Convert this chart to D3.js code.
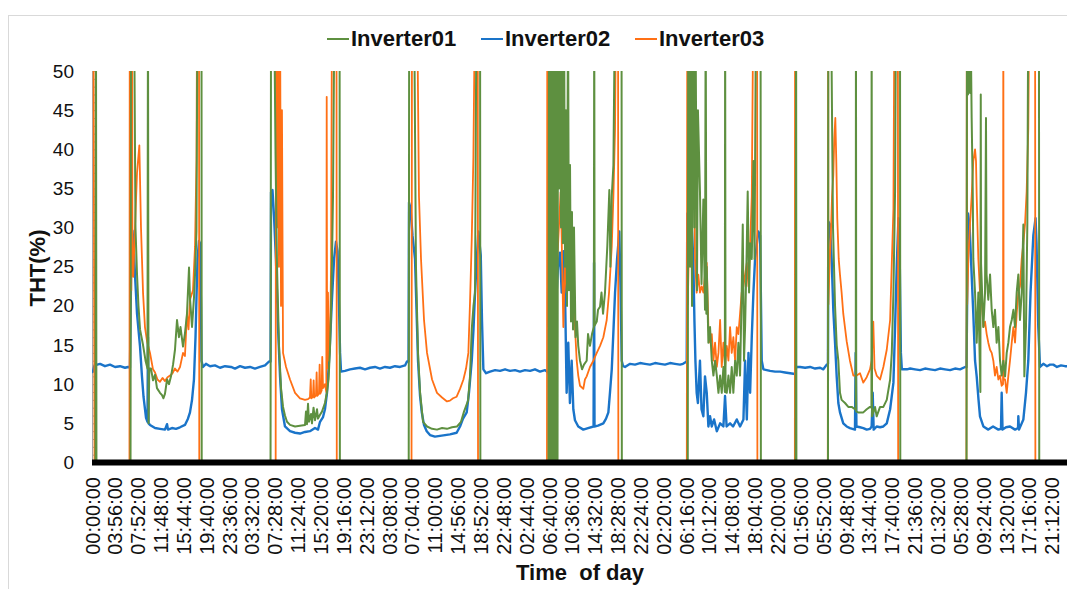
<!DOCTYPE html>
<html>
<head>
<meta charset="utf-8">
<script src="https://cdn.jsdelivr.net/npm/d3@7"></script>
<style>
  body { margin: 0; background: #fff; }
  svg { display: block; font-family: "Liberation Sans", Arial, sans-serif; }
</style>
</head>
<body>
<svg id="chart" width="1067" height="589"></svg>
<script>
// ---- data: elapsed minutes from the first sample, THT in % ----
const seriesNames = ["Inverter01", "Inverter02", "Inverter03"];
const seriesColors = ["#5e9040", "#1a74c9", "#ff7015"];

const tickStepMinutes = 236;
const totalMinutes = 10080;
const tickLabels = [
  "00:00:00","03:56:00","07:52:00","11:48:00","15:44:00","19:40:00","23:36:00",
  "03:32:00","07:28:00","11:24:00","15:20:00","19:16:00","23:12:00",
  "03:08:00","07:04:00","11:00:00","14:56:00","18:52:00","22:48:00",
  "02:44:00","06:40:00","10:36:00","14:32:00","18:28:00","22:24:00",
  "02:20:00","06:16:00","10:12:00","14:08:00","18:04:00","22:00:00",
  "01:56:00","05:52:00","09:48:00","13:44:00","17:40:00","21:36:00",
  "01:32:00","05:28:00","09:24:00","13:20:00","17:16:00","21:12:00"
];
const yTicks = [0, 5, 10, 15, 20, 25, 30, 35, 40, 45, 50];

// Values above 50 run off the top of the axis and are clipped.
const inverter01 = [
  [0,0],[36,0],[41,60],[46,0],[398,0],[403,60],[434,60],[449,30],[465,24],[480,20],[496,17],[527,15],[553,13],[573,12],[578,60],[584,5],[592,12],[609,12],[630,10.5],[651,11.2],[671,9.5],[702,8.9],[723,8.6],[738,8.2],[754,8.8],[775,10.6],[795,10],[816,11],[837,12.5],[857,14.4],[878,18.2],[898,16],[914,17.3],[940,14.8],[960,16.5],[981,19],[1002,24.9],[1012,21],[1033,17.3],[1053,21],[1064,24],[1079,29.5],[1090,60],[1131,60],[1133,0],
  [1844,0],[1849,60],[1880,60],[1895,40],[1911,25],[1931,15],[1952,9.5],[1973,7.1],[1993,6],[2014,5.2],[2045,4.8],[2097,4.6],[2148,4.7],[2200,4.8],[2210,6.5],[2220,4.9],[2231,7.5],[2241,5.2],[2262,6.2],[2272,5],[2288,7],[2303,5.4],[2324,6.8],[2334,5.6],[2355,6.1],[2375,6.5],[2406,7.6],[2427,9],[2443,10.6],[2458,14.5],[2469,19.5],[2479,26],[2489,34],[2505,60],[2557,60],[2560,0],
  [3271,0],[3276,60],[3326,60],[3346,25],[3367,14],[3388,9],[3419,5.2],[3460,4.6],[3512,4.3],[3563,4.2],[3615,4.4],[3666,4.3],[3718,4.5],[3770,4.6],[3811,5.2],[3842,6.5],[3884,7.9],[3904,11],[3922,17],[3940,20],[3956,21.7],[3971,60],[4008,60],[4011,0],
  [4715,0],[4720,60],[4725,0],[4730,60],[4736,0],[4741,60],[4746,0],[4751,60],[4756,5],[4761,60],[4767,0],[4772,60],[4777,10],[4782,60],[4787,0],[4798,60],[4808,0],[4813,60],[4823,35],[4833,60],[4844,30],[4854,60],[4864,28],[4875,60],[4885,25],[4895,45],[4906,20],[4916,60],[4926,22],[4937,38],[4947,18],[4957,32],[4968,17],[4978,30],[4994,16],[5009,18],[5022,14.9],[5040,13],[5061,11.9],[5081,12.5],[5109,13],[5123,16.4],[5143,14.9],[5164,16.4],[5183,17.3],[5187,60],[5191,17.5],[5213,18],[5226,19.5],[5247,19.9],[5262,21.7],[5278,19],[5298,21.7],[5322,27.6],[5343,34.8],[5354,25],[5368,34],[5385,38],[5402,60],[5469,60],[5472,0],
  [6153,0],[6158,60],[6176,25],[6181,60],[6197,20],[6207,60],[6222,30],[6232,60],[6248,22],[6258,45],[6279,34.6],[6295,22.8],[6314,33.6],[6331,19.5],[6338,60],[6345,19],[6349,25],[6366,15.3],[6383,17.3],[6401,13],[6418,11.1],[6435,13],[6453,11.1],[6470,8.9],[6487,11.1],[6504,8.9],[6521,12.2],[6536,9],[6539,60],[6543,9],[6556,8.9],[6573,11.1],[6590,8.9],[6607,12.2],[6624,8.9],[6642,13],[6659,11.1],[6676,15.3],[6693,11.1],[6710,21.7],[6721,30.4],[6734,13],[6745,17.3],[6760,26],[6772,34.6],[6786,21.7],[6797,28],[6814,26],[6831,38.5],[6843,26],[6858,60],[6905,60],[6908,0],
  [7267,0],[7272,60],[7275,0],
  [7601,0],[7605,60],[7632,60],[7653,30],[7674,20],[7691,15],[7708,13],[7725,8.9],[7742,8],[7777,7.6],[7811,7.1],[7846,7.1],[7880,6.8],[7888,6.8],[7890,60],[7893,6.5],[7914,6.4],[7966,6.4],[8001,6.8],[8035,7.1],[8050,7],[8052,60],[8056,5.9],[8087,7.1],[8104,5.9],[8139,7.1],[8173,7.1],[8208,8],[8243,10.6],[8260,14],[8277,21.7],[8294,34.6],[8304,60],[8345,60],[8348,0],
  [9032,0],[9037,60],[9047,47],[9058,55],[9068,47.2],[9078,52],[9085,44],[9096,35],[9102,26],[9120,21.7],[9137,15.3],[9154,21.7],[9175,9],[9179,47],[9182,25.4],[9206,17.3],[9223,21.7],[9233,44],[9239,24],[9257,20.8],[9275,24],[9292,19.5],[9309,17.3],[9326,19.5],[9343,15.3],[9361,17.3],[9378,13],[9395,11.1],[9412,13],[9430,11],[9447,14],[9464,15.3],[9481,17.3],[9499,18.2],[9516,19.5],[9533,17.3],[9550,21.7],[9567,24],[9584,18.2],[9602,21.7],[9619,30.4],[9629,11],[9646,17.3],[9660,30.4],[9670,60],[9780,60],[9783,0],[10080,0]
];

const inverter02 = [
  [0,11.5],[10,11.6],[26,12.4],[83,12.6],[134,12.3],[186,12.5],[238,12.2],[289,12.3],[341,12.1],[372,12.2],[392,12.1],[398,18],[408,29],[418,29.6],[429,28],[444,24],[465,19],[496,14.8],[516,11],[532,8.4],[558,5.7],[573,5.2],[578,16],[584,5],[599,4.8],[651,4.4],[702,4.3],[754,4.2],[775,4.9],[785,4.2],[826,4.4],[867,4.3],[909,4.5],[960,4.8],[991,5.6],[1012,6.4],[1033,8],[1053,10.6],[1069,16],[1079,21],[1090,26],[1105,28.3],[1115,28],[1126,20],[1131,13],[1146,12.2],[1177,12.6],[1219,12.3],[1270,12.4],[1322,12.1],[1374,12.3],[1436,12.2],[1477,12.0],[1529,12.3],[1580,12.1],[1632,12.2],[1683,12.0],[1735,12.2],[1787,12.4],[1828,12.9],[1844,12.9],
  [1849,34.5],[1864,34.8],[1880,31.4],[1900,25.9],[1921,17.3],[1942,11],[1962,6.8],[1993,4.6],[2045,4],[2097,3.8],[2148,3.7],[2200,3.9],[2251,4],[2303,4.4],[2334,4.2],[2355,5.2],[2386,5.8],[2406,6.8],[2427,8.9],[2443,12],[2458,15.3],[2479,21],[2500,26],[2520,28.2],[2536,27],[2551,20],[2562,14],[2572,11.6],[2613,11.7],[2665,11.9],[2716,12.0],[2768,12.1],[2820,11.9],[2871,12.1],[2923,12.2],[2974,12.0],[3026,12.2],[3078,12.1],[3129,12.3],[3181,12.2],[3233,12.4],[3253,12.9],[3269,12.9],
  [3274,33.2],[3290,32.5],[3310,29],[3336,26],[3367,13],[3388,8.5],[3406,6.4],[3429,4.8],[3457,4],[3491,3.5],[3542,3.3],[3594,3.4],[3646,3.5],[3697,3.6],[3766,3.8],[3801,4.6],[3832,5.6],[3870,6.4],[3894,9],[3922,13],[3940,17],[3956,21.7],[3990,29.5],[4015,26.5],[4028,18],[4042,11.9],[4070,11.4],[4111,11.6],[4163,11.8],[4214,11.7],[4266,11.9],[4317,11.7],[4369,11.8],[4420,11.6],[4472,11.8],[4524,11.7],[4575,11.9],[4627,11.6],[4679,11.8],[4710,11.5],[4730,11],
  [4741,14],[4748,25.5],[4761,24.7],[4782,13],[4799,21.7],[4813,25],[4833,26.8],[4851,21.7],[4868,27],[4885,22],[4902,8.9],[4919,15.3],[4936,7.6],[4954,13],[4971,6.8],[4988,5.4],[5022,4.6],[5074,4.2],[5123,4.4],[5180,4.6],[5185,25.5],[5190,4.6],[5226,4.7],[5281,5],[5309,5.6],[5333,6.4],[5350,9],[5368,11.9],[5386,17],[5402,21.7],[5423,26],[5446,29.5],[5459,22],[5471,13],[5485,12.3],[5505,12.2],[5557,12.6],[5608,12.5],[5660,12.7],[5711,12.6],[5763,12.5],[5815,12.7],[5866,12.6],[5918,12.5],[5970,12.7],[6021,12.6],[6073,12.5],[6104,12.6],[6142,12.9],
  [6148,31.8],[6166,31.2],[6193,30.4],[6210,26],[6222,18],[6232,13],[6245,8.9],[6258,7.6],[6279,13],[6295,6.8],[6314,5.9],[6331,11],[6349,8.9],[6366,4.6],[6383,5.9],[6401,4.6],[6425,5.5],[6453,4],[6487,5],[6521,4.6],[6538,8.5],[6554,4.6],[6590,5],[6621,4.6],[6659,5.5],[6693,4.6],[6728,5.5],[6745,13],[6763,5.5],[6780,14],[6797,8.9],[6814,16],[6831,21.7],[6848,26],[6882,29.5],[6900,29],[6917,13],[6934,11.9],[7003,11.7],[7055,11.6],[7107,11.6],[7158,11.5],[7210,11.4],[7262,11.3],[7272,12.2],[7313,12.2],[7365,12.1],[7416,12.2],[7468,12.0],[7520,12.1],[7553,11.9],[7588,12.5],[7601,12.6],
  [7604,30.8],[7622,30.4],[7639,26],[7656,19.5],[7674,15.3],[7691,11],[7708,7.6],[7725,6.4],[7759,5],[7794,4.6],[7828,4.4],[7880,4.2],[7887,14],[7895,4.6],[7932,4.5],[7966,4.4],[8001,4.2],[8035,4.3],[8052,4.6],[8063,8.9],[8073,4.2],[8104,4.6],[8139,4.5],[8173,4.6],[8208,5],[8243,6.8],[8277,10.2],[8294,17.3],[8312,25.4],[8329,31.2],[8339,29],[8354,14],[8364,11.9],[8416,11.9],[8450,12.0],[8500,11.9],[8552,11.8],[8603,12.0],[8655,11.9],[8707,11.8],[8758,12.0],[8810,11.9],[8862,11.8],[8913,12.0],[8965,11.9],[9017,12.2],[9032,12.2],
  [9047,31.8],[9063,30.4],[9078,26],[9102,19],[9120,13],[9137,11],[9156,8],[9171,5.9],[9206,4.6],[9257,4.2],[9306,4.6],[9361,4.2],[9388,4.3],[9395,8.9],[9404,4.2],[9440,4.5],[9481,4.6],[9533,4.2],[9564,4.4],[9567,5.9],[9574,4.2],[9619,5.5],[9646,8.9],[9670,13],[9693,21.7],[9722,29],[9745,31.2],[9755,28],[9773,17.3],[9791,12.2],[9825,12.6],[9863,12.3],[9894,12.5],[9928,12.5],[9966,12.2],[10008,12.4],[10049,12.3],[10080,12.3]
];

const inverter03 = [
  [0,60],[15,60],[26,0],[387,0],[390,60],[395,17.3],[400,60],[406,22],[413,60],[418,25],[426,23.7],[444,30],[465,37],[489,40.5],[506,30],[527,21.7],[547,17.3],[568,15.5],[599,14],[630,11.9],[651,11.5],[676,10.6],[702,10.3],[728,10.8],[754,10.4],[780,10.9],[806,11.1],[831,11.4],[857,12],[883,11.6],[909,12.2],[940,14],[960,13.6],[981,19],[997,17],[1012,20.8],[1043,22],[1064,27.6],[1079,38.6],[1086,60],[1105,60],[1108,0],
  [1897,0],[1900,60],[1911,30],[1921,60],[1931,25],[1942,60],[1952,20],[1962,45],[1973,14],[2004,12.2],[2045,10.6],[2097,8.9],[2148,8.2],[2200,8],[2231,8.1],[2251,8.3],[2259,10.6],[2265,8.2],[2282,8.4],[2289,10.5],[2295,8.3],[2313,8.6],[2320,11.5],[2326,8.5],[2344,8.8],[2351,12.5],[2358,8.8],[2372,9.2],[2378,13.5],[2386,9.5],[2406,10],[2420,9],[2424,46.7],[2428,12],[2437,21.7],[2446,13],[2458,15.3],[2469,25],[2479,60],[2525,60],[2528,0],
  [3300,0],[3305,60],[3357,60],[3377,34],[3398,26],[3429,18.2],[3460,14],[3512,10.6],[3563,8.9],[3615,8.3],[3666,7.8],[3697,7.9],[3729,8.2],[3766,8.4],[3801,9.4],[3836,10.6],[3863,12],[3887,14],[3904,20.4],[3922,28.5],[3939,39],[3956,60],[3984,60],[3987,0],
  [4699,0],[4702,60],[4706,17.5],[4730,17.5],[4748,21.7],[4765,26],[4782,21.7],[4799,24],[4816,28.5],[4840,34.5],[4851,28.5],[4868,17.3],[4885,26],[4902,21.7],[4919,26],[4937,25.4],[4954,21.7],[4971,27.6],[4988,17.3],[5006,13],[5022,11.1],[5040,9.8],[5074,9.4],[5091,10.6],[5109,11],[5143,12.2],[5178,13],[5213,14],[5247,14.9],[5281,16],[5316,18.2],[5340,21.7],[5368,27.6],[5385,34],[5402,42.6],[5412,60],[5433,60],[5436,0],
  [6143,0],[6148,60],[6153,20.2],[6161,25],[6176,26],[6193,30],[6210,38.5],[6221,36],[6228,26],[6245,21.7],[6262,24],[6279,21.7],[6297,22.5],[6314,21.7],[6331,24],[6349,25.5],[6366,17.3],[6383,15.3],[6401,16.4],[6418,13],[6435,15.3],[6453,12.2],[6470,14],[6487,18.2],[6504,12.2],[6521,15.3],[6539,12.2],[6556,14.9],[6573,13],[6590,17.3],[6607,14],[6624,16],[6642,13],[6659,17.3],[6676,16.4],[6693,19],[6710,21.7],[6728,22.5],[6745,24],[6763,25.5],[6780,22.5],[6797,27.6],[6814,34],[6831,60],[6869,60],[6872,0],
  [7259,0],[7261,60],[7265,0],
  [7599,0],[7603,60],[7606,20.2],[7617,25],[7629,28.5],[7643,34],[7656,36.7],[7666,41.3],[7677,44],[7687,38.5],[7697,31.2],[7712,26],[7725,24],[7742,21.7],[7759,19],[7794,15.5],[7828,13],[7863,11.1],[7897,11.1],[7932,11.4],[7966,10.2],[8001,10.9],[8035,11.9],[8052,13],[8069,18],[8082,12],[8104,11.1],[8139,10.6],[8173,12.2],[8208,14.4],[8243,18.2],[8260,25.4],[8277,32.4],[8288,60],[8323,60],[8326,0],
  [9031,0],[9035,60],[9039,20.2],[9051,26],[9068,30.4],[9085,34],[9102,38.5],[9120,40],[9130,38.5],[9137,34],[9154,26],[9171,21.7],[9188,20.8],[9206,17.3],[9223,18],[9240,16.4],[9257,15.3],[9275,14.4],[9292,14],[9309,13],[9326,11.1],[9343,12.2],[9361,10.6],[9378,11.1],[9395,9.8],[9409,10],[9412,60],[9415,10.6],[9430,10.6],[9447,8.9],[9464,11.1],[9481,13],[9499,15.3],[9516,17.3],[9533,15.3],[9550,19],[9567,21.7],[9584,22.5],[9602,26],[9619,28],[9636,30.4],[9653,34.6],[9670,42.7],[9681,60],[9740,60],[9743,0],[10080,0]
];

// ---- layout ----
const svg = d3.select("#chart");
const plot = { left: 92, right: 1068, top: 71, bottom: 462.5 };

const x = d3.scaleLinear().domain([0, totalMinutes]).range([plot.left, plot.right]);
const y = d3.scaleLinear().domain([0, 50]).range([plot.bottom, plot.top]);

// chart-area frame
svg.append("rect")
  .attr("x", 8.5).attr("y", 15.5).attr("width", 1100).attr("height", 600)
  .attr("fill", "none").attr("stroke", "#d9d9d9").attr("stroke-width", 1);

svg.append("clipPath").attr("id", "plot-clip")
  .append("rect")
  .attr("x", plot.left).attr("y", plot.top)
  .attr("width", plot.right - plot.left).attr("height", plot.bottom - plot.top + 3);

// y axis: minor ticks every 1 %, labels every 5 %
const yMinor = svg.append("g")
  .attr("transform", `translate(${plot.left},0)`)
  .call(d3.axisRight(y).tickValues(d3.range(0, 51, 1)).tickSize(3).tickFormat(""));
yMinor.select(".domain").attr("stroke", "#a6a6a6");
yMinor.selectAll(".tick line").attr("stroke", "#a6a6a6");

const yAxis = svg.append("g")
  .attr("transform", `translate(${plot.left},0)`)
  .call(d3.axisLeft(y).tickValues(yTicks).tickSize(0).tickPadding(18));
yAxis.select(".domain").remove();
yAxis.selectAll("text")
  .attr("font-family", "Liberation Sans, Arial, sans-serif")
  .attr("font-size", 19).attr("fill", "#111");

// series lines
const line = d3.line().x(d => x(d[0])).y(d => y(d[1]));
const seriesData = [inverter01, inverter02, inverter03];
const drawOrder = [1, 2, 0];
const widths = [2, 2.4, 1.8];
const gLines = svg.append("g").attr("clip-path", "url(#plot-clip)");
drawOrder.forEach(i => {
  gLines.append("path")
    .datum(seriesData[i])
    .attr("d", line)
    .attr("fill", "none")
    .attr("stroke", seriesColors[i])
    .attr("stroke-width", widths[i])
    .attr("stroke-linejoin", "round");
});

// x axis: heavy baseline with rotated time labels
const xAxis = svg.append("g")
  .attr("transform", `translate(0,${plot.bottom})`)
  .call(d3.axisBottom(x)
    .tickValues(tickLabels.map((_, i) => i * tickStepMinutes))
    .tickSize(0)
    .tickFormat((d, i) => tickLabels[i]));
xAxis.select(".domain")
  .attr("stroke", "#000").attr("stroke-width", 6)
  .attr("d", `M${plot.left},0H${plot.right}`);
xAxis.selectAll("text")
  .attr("font-family", "Liberation Sans, Arial, sans-serif")
  .attr("font-size", 20).attr("fill", "#111")
  .attr("transform", "rotate(-90)")
  .attr("x", -14.5).attr("y", 0).attr("dy", "0.35em")
  .style("text-anchor", "end");

// axis titles
svg.append("text")
  .attr("transform", "translate(45,268) rotate(-90)")
  .attr("text-anchor", "middle")
  .attr("font-size", 22).attr("font-weight", "bold").attr("fill", "#111")
  .text("THT(%)");

svg.append("text")
  .attr("x", 580).attr("y", 580)
  .attr("text-anchor", "middle")
  .attr("font-size", 22).attr("font-weight", "bold").attr("fill", "#111")
  .style("white-space", "pre")
  .text("Time  of day");

// legend
const legend = svg.append("g").attr("transform", "translate(327,0)");
seriesNames.forEach((name, i) => {
  const g = legend.append("g").attr("transform", `translate(${i * 154},0)`);
  g.append("line")
    .attr("x1", 0).attr("x2", 22).attr("y1", 39).attr("y2", 39)
    .attr("stroke", seriesColors[i]).attr("stroke-width", 2);
  g.append("text")
    .attr("x", 24).attr("y", 46)
    .attr("font-size", 22).attr("font-weight", "bold").attr("fill", "#111")
    .text(name);
});
</script>
</body>
</html>
